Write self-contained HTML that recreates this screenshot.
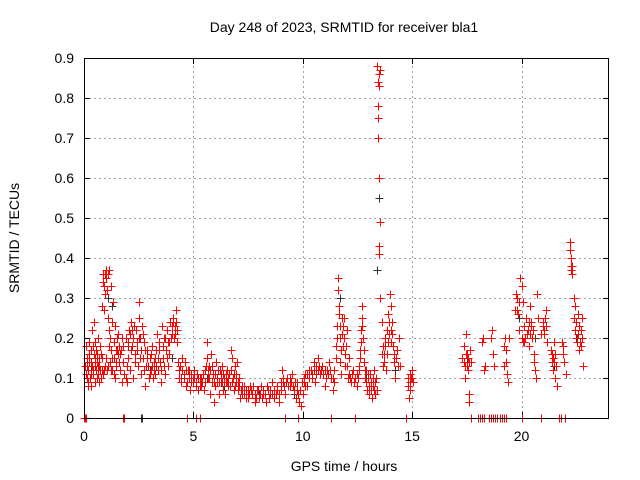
<!DOCTYPE html>
<html><head><meta charset="utf-8"><style>
html,body{margin:0;padding:0;background:#fff;}
svg{display:block;font-family:"Liberation Sans",sans-serif;}
</style></head><body>
<svg id="chart" width="640" height="480" viewBox="0 0 640 480">
<rect width="640" height="480" fill="#fff"/>
<text x="344" y="32" font-size="14" text-anchor="middle">Day 248 of 2023, SRMTID for receiver bla1</text>
<text x="344" y="471" font-size="14" text-anchor="middle">GPS time / hours</text>
<text transform="translate(19,238) rotate(-90)" font-size="14" text-anchor="middle">SRMTID / TECUs</text>
<g id="grid"></g>
<g id="ticks"></g>
<g id="blackSeries"></g>
<g id="redSeries"></g>
<rect x="84.5" y="58.5" width="524" height="360" fill="none" stroke="#000" stroke-width="1" shape-rendering="crispEdges"/>
</svg>
<script>
const xTicks=[0,5,10,15,20];
const yTicks=[0,0.1,0.2,0.3,0.4,0.5,0.6,0.7,0.8,0.9];
const yTickLabels=["0","0.1","0.2","0.3","0.4","0.5","0.6","0.7","0.8","0.9"];
const blackPoints=[[0.3,0.12],[1.1,0.3],[1.3,0.28],[2.0,0.18],[2.6,0],[2.65,0],[3.0,0.12],[4.0,0.15],[5.6,0.1],[6.4,0.08],[7.2,0.07],[8.0,0.06],[8.8,0.07],[9.6,0.06],[10.4,0.1],[11.7,0.3],[12.9,0.1],[13.4,0.37],[13.5,0.55],[14.2,0.12],[17.5,0.15],[19.9,0.25],[20.6,0.2],[21.5,0.13],[22.3,0.38],[22.5,0.2]];
const redPoints=[
[0.05,0.13],[0.1,0.0],[0.1,0.18],[0.12,0.1],[0.15,0.15],[0.18,0.08],[0.2,0.12],[0.22,0.19],[0.25,0.14],[0.28,0.1],[0.3,0.17],[0.32,0.08],[0.35,0.22],[0.38,0.13],[0.4,0.18],[0.42,0.11],[0.45,0.24],[0.48,0.15],[0.5,0.09],[0.52,0.19],[0.55,0.12],[0.58,0.16],[0.6,0.1],[0.62,0.2],[0.65,0.13],[0.68,0.15],[0.7,0.09],[0.72,0.18],[0.75,0.12],[0.78,0.1],[0.8,0.15],[0.82,0.28],[0.85,0.34],[0.88,0.36],[0.9,0.33],[0.92,0.27],[0.95,0.36],[0.98,0.31],[1.0,0.35],[1.02,0.37],[1.05,0.32],[1.08,0.25],[1.1,0.36],[1.12,0.22],[1.15,0.37],[1.18,0.14],[1.2,0.2],[1.22,0.33],[1.25,0.17],[1.28,0.24],[1.3,0.12],[1.32,0.29],[1.35,0.19],[1.38,0.15],[1.4,0.23],[1.42,0.1],[1.45,0.17],[1.48,0.13],[1.5,0.2],[1.55,0.16],[1.6,0.18],[1.65,0.12],[1.7,0.17],[1.75,0.09],[1.8,0.0],[1.85,0.0],[1.8,0.14],[1.85,0.11],[1.9,0.2],[1.95,0.09],[2.0,0.15],[2.05,0.22],[2.1,0.12],[2.15,0.24],[2.2,0.18],[2.25,0.1],[2.3,0.23],[2.35,0.16],[2.4,0.19],[2.45,0.13],[2.5,0.29],[2.52,0.25],[2.55,0.2],[2.6,0.11],[2.65,0.23],[2.7,0.15],[2.75,0.19],[2.8,0.08],[2.85,0.13],[2.9,0.17],[2.95,0.1],[3.0,0.15],[3.05,0.12],[3.1,0.18],[3.15,0.1],[3.2,0.14],[3.25,0.11],[3.3,0.17],[3.35,0.21],[3.4,0.12],[3.45,0.19],[3.5,0.09],[3.55,0.23],[3.6,0.15],[3.65,0.2],[3.7,0.11],[3.75,0.17],[3.8,0.22],[3.85,0.13],[3.9,0.19],[3.95,0.24],[4.0,0.21],[4.05,0.25],[4.1,0.2],[4.15,0.23],[4.2,0.27],[4.25,0.19],[4.3,0.14],[4.35,0.1],[4.4,0.13],[4.45,0.09],[4.5,0.15],[4.55,0.11],[4.6,0.14],[4.65,0.08],[4.7,0.0],[4.75,0.12],[4.8,0.1],[4.85,0.07],[4.9,0.11],[5.0,0.09],[5.05,0.12],[5.1,0.0],[5.1,0.08],[5.15,0.11],[5.2,0.07],[5.3,0.0],[5.3,0.1],[5.35,0.08],[5.4,0.09],[5.5,0.07],[5.55,0.12],[5.6,0.15],[5.62,0.19],[5.65,0.1],[5.7,0.13],[5.75,0.06],[5.8,0.16],[5.85,0.09],[5.9,0.11],[5.95,0.04],[6.0,0.08],[6.05,0.14],[6.1,0.1],[6.15,0.06],[6.2,0.12],[6.25,0.09],[6.3,0.13],[6.35,0.07],[6.4,0.1],[6.45,0.06],[6.5,0.09],[6.55,0.12],[6.6,0.08],[6.65,0.11],[6.7,0.17],[6.75,0.15],[6.8,0.1],[6.85,0.07],[6.9,0.13],[6.95,0.09],[7.0,0.14],[7.05,0.07],[7.1,0.1],[7.15,0.05],[7.2,0.08],[7.3,0.06],[7.4,0.07],[7.5,0.05],[7.6,0.08],[7.7,0.06],[7.8,0.04],[7.9,0.07],[8.0,0.05],[8.1,0.08],[8.2,0.06],[8.3,0.04],[8.4,0.07],[8.5,0.06],[8.6,0.09],[8.7,0.05],[8.8,0.07],[8.9,0.04],[9.0,0.09],[9.05,0.12],[9.1,0.1],[9.2,0.0],[9.2,0.06],[9.3,0.1],[9.4,0.08],[9.5,0.11],[9.6,0.07],[9.7,0.05],[9.75,0.09],[9.8,0.0],[9.85,0.04],[9.9,0.03],[10.0,0.06],[10.05,0.09],[10.1,0.11],[10.2,0.08],[10.3,0.12],[10.4,0.1],[10.5,0.14],[10.55,0.09],[10.6,0.13],[10.7,0.15],[10.8,0.11],[10.9,0.13],[11.0,0.08],[11.1,0.12],[11.2,0.14],[11.3,0.0],[11.3,0.1],[11.4,0.07],[11.45,0.12],[11.5,0.18],[11.55,0.23],[11.6,0.35],[11.62,0.32],[11.65,0.26],[11.7,0.2],[11.72,0.14],[11.75,0.11],[11.8,0.25],[11.85,0.18],[11.9,0.25],[11.95,0.13],[12.0,0.22],[12.05,0.1],[12.1,0.15],[12.2,0.09],[12.3,0.12],[12.4,0.0],[12.4,0.1],[12.5,0.08],[12.55,0.13],[12.6,0.17],[12.65,0.22],[12.7,0.28],[12.72,0.25],[12.75,0.2],[12.8,0.14],[12.85,0.1],[12.9,0.12],[12.95,0.07],[13.0,0.11],[13.05,0.06],[13.1,0.09],[13.15,0.05],[13.2,0.08],[13.25,0.12],[13.3,0.06],[13.35,0.1],[13.4,0.88],[13.45,0.84],[13.42,0.78],[13.48,0.86],[13.5,0.83],[13.46,0.75],[13.44,0.7],[13.5,0.6],[13.52,0.87],[13.48,0.41],[13.5,0.43],[13.55,0.49],[13.55,0.3],[13.6,0.24],[13.65,0.18],[13.7,0.14],[13.75,0.2],[13.8,0.12],[13.85,0.16],[13.9,0.26],[13.95,0.21],[14.0,0.31],[14.02,0.28],[14.05,0.19],[14.1,0.24],[14.15,0.14],[14.2,0.1],[14.3,0.17],[14.4,0.2],[14.45,0.13],[14.7,0.0],[14.8,0.08],[14.85,0.05],[14.9,0.11],[14.95,0.1],[15.0,0.12],[15.05,0.09],
[17.3,0.15],[17.35,0.18],[17.4,0.13],[17.42,0.1],[17.45,0.21],[17.5,0.16],[17.55,0.12],[17.58,0.06],[17.6,0.04],[17.65,0.17],[17.7,0.14],[17.7,0.0],
[18.0,0.0],[18.2,0.19],[18.25,0.2],[18.3,0.12],[18.35,0.13],[18.5,0.0],[18.6,0.2],[18.65,0.22],[18.7,0.16],[18.72,0.13],[18.8,0.0],[19.0,0.0],[19.2,0.18],[19.25,0.2],[19.3,0.14],[19.35,0.11],[19.4,0.09],[19.3,0.0],[19.45,0.2],[19.7,0.27],[19.75,0.31],[19.8,0.3],[19.85,0.26],[19.9,0.22],[19.95,0.35],[20.0,0.33],[20.0,0.0],[20.05,0.29],[20.1,0.19],[20.15,0.2],[20.2,0.25],[20.3,0.22],[20.35,0.18],[20.4,0.28],[20.45,0.23],[20.5,0.2],[20.55,0.16],[20.6,0.12],[20.65,0.1],[20.7,0.31],[20.75,0.25],[20.9,0.0],[21.0,0.24],[21.05,0.21],[21.1,0.27],[21.15,0.19],[21.35,0.17],[21.4,0.14],[21.45,0.12],[21.5,0.19],[21.55,0.1],[21.6,0.08],[21.7,0.0],[21.8,0.0],[21.85,0.19],[21.9,0.16],[21.95,0.14],[22.0,0.0],[22.05,0.11],[22.2,0.44],[22.22,0.42],[22.25,0.38],[22.3,0.36],[22.28,0.4],[22.4,0.3],[22.45,0.28],[22.5,0.24],[22.55,0.2],[22.6,0.26],[22.65,0.17],[22.7,0.22],[22.75,0.25],[22.8,0.13]
];
const redPointsExtra=[
[0.0,0.0],[0.05,0.0],[0.08,0.11],[0.14,0.13],[0.2,0.09],[0.24,0.16],[0.3,0.11],[0.34,0.14],[0.4,0.12],[0.44,0.16],[0.5,0.13],[0.55,0.17],[0.6,0.14],[0.66,0.11],[0.7,0.13],[0.76,0.16],[0.8,0.12],[0.86,0.11],[0.9,0.12],[0.96,0.13],[1.0,0.15],[1.04,0.12],[1.1,0.13],[1.16,0.18],[1.24,0.12],[1.3,0.15],[1.36,0.11],[1.44,0.14],[1.5,0.17],[1.56,0.21],[1.6,0.14],[1.66,0.16],[1.72,0.2],[1.78,0.18],[1.9,0.1],[1.96,0.13],[2.02,0.19],[2.08,0.21],[2.14,0.17],[2.2,0.22],[2.26,0.2],[2.32,0.14],[2.38,0.22],[2.44,0.17],[2.5,0.2],[2.56,0.15],[2.62,0.17],[2.68,0.21],[2.74,0.12],[2.8,0.17],[2.86,0.15],[2.92,0.13],[3.0,0.11],[3.06,0.16],[3.12,0.13],[3.18,0.12],[3.24,0.15],[3.3,0.13],[3.36,0.15],[3.42,0.17],[3.48,0.14],[3.54,0.12],[3.6,0.18],[3.66,0.13],[3.72,0.2],[3.78,0.15],[3.84,0.19],[3.9,0.16],[3.96,0.2],[4.02,0.23],[4.08,0.24],[4.14,0.21],[4.2,0.24],[4.26,0.22],[4.34,0.12],[4.42,0.1],[4.5,0.12],[4.58,0.1],[4.64,0.12],[4.72,0.09],[4.8,0.12],[4.88,0.09],[4.96,0.1],[5.04,0.1],[5.12,0.09],[5.2,0.1],[5.28,0.08],[5.36,0.1],[5.44,0.11],[5.52,0.09],[5.58,0.13],[5.66,0.12],[5.72,0.1],[5.78,0.12],[5.86,0.13],[5.92,0.09],[6.0,0.11],[6.06,0.09],[6.12,0.12],[6.18,0.09],[6.24,0.11],[6.3,0.09],[6.36,0.11],[6.42,0.09],[6.48,0.11],[6.54,0.09],[6.6,0.1],[6.66,0.08],[6.72,0.12],[6.78,0.09],[6.84,0.11],[6.9,0.08],[6.96,0.11],[7.02,0.09],[7.08,0.08],[7.16,0.07],[7.24,0.06],[7.32,0.08],[7.4,0.05],[7.48,0.07],[7.56,0.06],[7.64,0.07],[7.72,0.08],[7.8,0.06],[7.88,0.05],[7.96,0.07],[8.04,0.06],[8.12,0.05],[8.2,0.07],[8.28,0.06],[8.36,0.08],[8.44,0.05],[8.52,0.07],[8.6,0.06],[8.68,0.07],[8.76,0.06],[8.84,0.08],[8.92,0.06],[9.0,0.07],[9.08,0.09],[9.16,0.08],[9.24,0.09],[9.32,0.08],[9.4,0.1],[9.48,0.09],[9.56,0.08],[9.64,0.09],[9.72,0.07],[9.8,0.06],[9.88,0.07],[9.96,0.09],[10.04,0.1],[10.12,0.08],[10.2,0.11],[10.28,0.1],[10.36,0.12],[10.44,0.11],[10.52,0.12],[10.6,0.11],[10.68,0.12],[10.76,0.13],[10.84,0.12],[10.92,0.11],[11.0,0.12],[11.08,0.1],[11.16,0.11],[11.24,0.12],[11.36,0.1],[11.44,0.09],[11.52,0.15],[11.58,0.2],[11.64,0.28],[11.68,0.23],[11.74,0.17],[11.8,0.21],[11.84,0.23],[11.88,0.2],[11.92,0.16],[11.98,0.18],[12.04,0.13],[12.1,0.11],[12.16,0.1],[12.24,0.11],[12.32,0.09],[12.46,0.11],[12.52,0.1],[12.58,0.12],[12.62,0.15],[12.66,0.19],[12.7,0.23],[12.78,0.17],[12.84,0.12],[12.9,0.09],[12.96,0.1],[13.02,0.08],[13.08,0.11],[13.14,0.07],[13.2,0.1],[13.26,0.07],[13.32,0.09],[13.38,0.07],[13.6,0.16],[13.66,0.13],[13.72,0.16],[13.78,0.18],[13.84,0.22],[13.9,0.19],[13.96,0.24],[14.04,0.22],[14.08,0.21],[14.12,0.18],[14.18,0.16],[14.26,0.15],[14.34,0.13],[14.8,0.1],[14.88,0.09],[14.92,0.07],[15.0,0.1],[17.36,0.14],[17.44,0.16],[17.5,0.13],[17.56,0.15],[17.62,0.14],[18.0,0.0],[18.1,0.0],[18.2,0.0],[18.3,0.0],[18.6,0.0],[18.7,0.0],[18.9,0.0],[19.1,0.0],[19.2,0.0],[19.22,0.13],[19.28,0.17],[19.8,0.27],[19.88,0.29],[20.0,0.2],[20.06,0.19],[20.12,0.23],[20.18,0.2],[20.24,0.21],[20.32,0.24],[20.4,0.21],[20.44,0.24],[20.52,0.22],[20.58,0.14],[20.9,0.21],[20.96,0.23],[21.02,0.22],[21.08,0.25],[21.12,0.23],[21.4,0.16],[21.44,0.15],[21.48,0.14],[21.52,0.16],[21.58,0.13],[21.9,0.18],[22.26,0.37],[22.32,0.38],[22.42,0.25],[22.46,0.22],[22.52,0.19],[22.58,0.21],[22.62,0.23],[22.68,0.19],[22.72,0.18],[22.78,0.2]
];
const NS='http://www.w3.org/2000/svg';
const X0=84,X1=609,Y0=418,Y1=58,XMAX=24,YMAX=0.9;
function xs(t){return X0+(X1-X0)*t/XMAX;}
function ys(v){return Y0-(Y0-Y1)*v/YMAX;}
function mk(tag,attrs){const e=document.createElementNS(NS,tag);for(const k in attrs)e.setAttribute(k,attrs[k]);return e;}
const grid=document.getElementById('grid'),ticks=document.getElementById('ticks');
xTicks.forEach(t=>{
  const x=Math.round(xs(t))+0.5;
  if(t>0){const g=mk('line',{x1:x,y1:Y0,x2:x,y2:Y1,stroke:'#a0a0a0','stroke-dasharray':'2,3','shape-rendering':'crispEdges'});
  
  
  grid.appendChild(g);}
  ticks.appendChild(mk('line',{x1:x,y1:Y0,x2:x,y2:Y0-6,stroke:'#000','shape-rendering':'crispEdges'}));
  ticks.appendChild(mk('line',{x1:x,y1:Y1,x2:x,y2:Y1+6,stroke:'#000','shape-rendering':'crispEdges'}));
  const l=mk('text',{x:xs(t),y:Y0+23,'font-size':14,'text-anchor':'middle'});l.textContent=t;
  
  
  ticks.appendChild(l);
});
yTicks.forEach((v,i)=>{
  const y=Math.round(ys(v))+0.5;
  if(v>0){const g=mk('line',{x1:X0,y1:y,x2:X1,y2:y,stroke:'#a0a0a0','stroke-dasharray':'2,3','shape-rendering':'crispEdges'});
  
  
  grid.appendChild(g);}
  ticks.appendChild(mk('line',{x1:X0,y1:y,x2:X0+6,y2:y,stroke:'#000','shape-rendering':'crispEdges'}));
  ticks.appendChild(mk('line',{x1:X1,y1:y,x2:X1-6,y2:y,stroke:'#000','shape-rendering':'crispEdges'}));
  const l=mk('text',{x:X0-10,y:ys(v)+5,'font-size':14,'text-anchor':'end'});l.textContent=yTickLabels[i];
  
  
  ticks.appendChild(l);
});
function drawSeries(gid,pts,color,name){
  const g=document.getElementById(gid);let d='';
  pts.forEach(p=>{const x=Math.round(xs(p[0]))+0.5,y=Math.round(ys(p[1]))+0.5;d+='M'+(x-4)+' '+y+'h8M'+x+' '+(y-4)+'v8';});
  const path=mk('path',{d:d,stroke:color,'stroke-width':1,fill:'none','shape-rendering':'crispEdges'});
  
  
  g.appendChild(path);
}
drawSeries('blackSeries',blackPoints,'#333','black-markers');
drawSeries('redSeries',redPoints,'#ff0000','red-markers');
drawSeries('redSeries',redPointsExtra,'#ff0000','red-markers-extra');
</script>
</body></html>
